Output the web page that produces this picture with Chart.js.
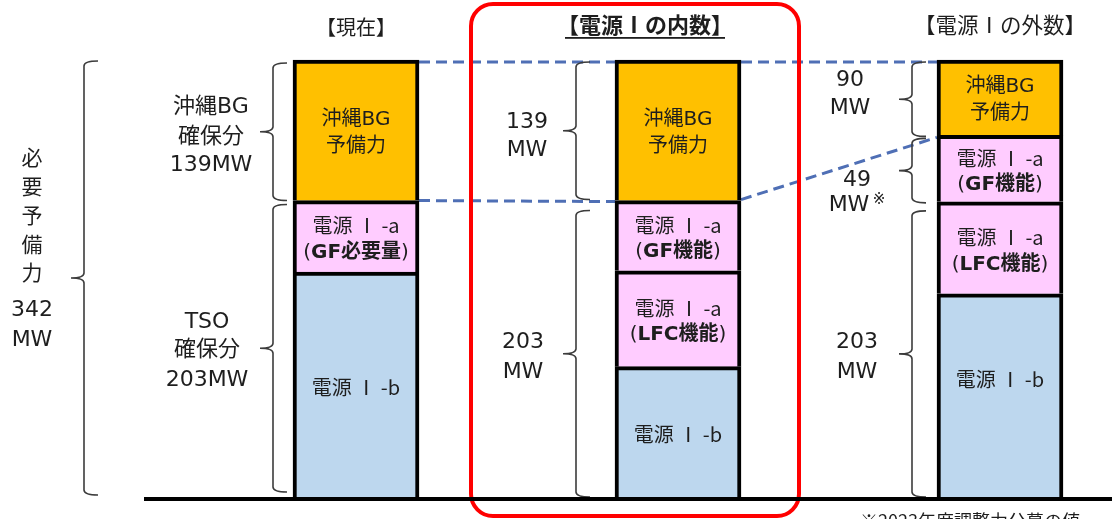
<!DOCTYPE html>
<html lang="ja">
<head>
<meta charset="utf-8">
<script src="https://cdn.jsdelivr.net/npm/chart.js@4"></script>
<style>
  html, body { margin: 0; padding: 0; background: #fff; }
  canvas { display: block; }
</style>
</head>
<body>
<canvas id="reserve" width="1112" height="519"></canvas>
<script>
// columns of the diagram
const columns = ['現在', '電源Ⅰの内数', '電源Ⅰの外数'];

// segment heights as drawn (schematic, not to scale; every column = 342)
const sourceB = [176, 102, 159];   // 電源Ⅰ-b
const lfcPart = [null, 75, 72];    // 電源Ⅰ-a（LFC機能）
const gfPart = [56, 55, 52];       // 電源Ⅰ-a（GF必要量 / GF機能）
const bgPart = [110, 110, 59];     // 沖縄BG予備力
const total = 342;

// texts inside the segments, per dataset then per column
const segText = [
  [[['電源 Ⅰ -b']], [['電源 Ⅰ -b']], [['電源 Ⅰ -b']]],
  [null, [['電源 Ⅰ -a'], ['(', 'LFC機能', ')']], [['電源 Ⅰ -a'], ['(', 'LFC機能', ')']]],
  [[['電源 Ⅰ -a'], ['(', 'GF必要量', ')']], [['電源 Ⅰ -a'], ['(', 'GF機能', ')']], [['電源 Ⅰ -a'], ['(', 'GF機能', ')']]],
  [[['沖縄BG'], ['予備力']], [['沖縄BG'], ['予備力']], [['沖縄BG'], ['予備力']]]
];

// braces: value range they span
const braces = [
  { x: 84, from: 0, to: 342, padT: 1, padB: 2 },
  { x: 273, from: 232, to: 342, padT: 3, padB: 0 },
  { x: 273, from: 0, to: 232, padT: 4, padB: 5 },
  { x: 576, from: 232, to: 342, padT: 2, padB: 1 },
  { x: 576, from: 0, to: 232, padT: 10, padB: 0 },
  { x: 912, from: 283, to: 342, padT: 2, padB: -1 },
  { x: 912, from: 231, to: 283, padT: 3, padB: -1 },
  { x: 912, from: 0, to: 231, padT: 9, padB: 0 }
];

const LATIN = '"DejaVu Sans", "Noto Sans CJK JP", sans-serif';
const CJK = '"Noto Sans CJK JP", sans-serif';
const INK = '#1e1e1e';

function txt(ctx, s, x, y, size, bold, fam) {
  ctx.font = (bold ? 'bold ' : '') + size + 'px ' + (fam || LATIN);
  ctx.fillStyle = INK;
  ctx.textAlign = 'center';
  ctx.textBaseline = 'middle';
  ctx.fillText(s, x, y);
}

// one line made of parts: plain, bold, plain
function mixed(ctx, parts, x, y, size) {
  const fonts = parts.map((p, i) => (parts.length > 1 && i === 1 ? 'bold ' : '') + size + 'px ' +
    (p.indexOf('Ⅰ') >= 0 ? CJK : LATIN));
  let w = 0;
  const ws = parts.map((p, i) => { ctx.font = fonts[i]; const m = ctx.measureText(p).width; w += m; return m; });
  let cx = x - w / 2;
  ctx.fillStyle = INK;
  ctx.textAlign = 'left';
  ctx.textBaseline = 'middle';
  parts.forEach((p, i) => { ctx.font = fonts[i]; ctx.fillText(p, cx, y); cx += ws[i]; });
}

function brace(ctx, x, top, bottom) {
  const mid = (top + bottom) / 2, r = 5, hook = 14, tip = 13;
  ctx.beginPath();
  ctx.moveTo(x + hook, top);
  ctx.quadraticCurveTo(x, top, x, top + r);
  ctx.lineTo(x, mid - r);
  ctx.quadraticCurveTo(x, mid, x - tip, mid);
  ctx.quadraticCurveTo(x, mid, x, mid + r);
  ctx.lineTo(x, bottom - r);
  ctx.quadraticCurveTo(x, bottom, x + hook, bottom);
  ctx.stroke();
}

const diagram = {
  id: 'diagram',
  beforeDatasetsDraw(chart) {
    const ctx = chart.ctx;
    const bg = chart.getDatasetMeta(3).data;
    const L = b => b.x - b.width / 2, R = b => b.x + b.width / 2;
    ctx.save();
    ctx.strokeStyle = '#4f6fb5';
    ctx.lineWidth = 3;
    ctx.setLineDash([11, 6]);
    const seg = (x1, y1, x2, y2) => { ctx.beginPath(); ctx.moveTo(x1, y1); ctx.lineTo(x2, y2); ctx.stroke(); };
    seg(R(bg[0]), bg[0].y + 2, L(bg[1]), bg[1].y + 2);
    seg(R(bg[1]), bg[1].y + 2, L(bg[2]), bg[2].y + 2);
    seg(R(bg[0]), bg[0].base, L(bg[1]), bg[1].base + 1);
    seg(R(bg[1]), bg[1].base - 1, L(bg[2]), bg[2].base + 2);
    ctx.restore();
  },
  afterDatasetsDraw(chart) {
    const ctx = chart.ctx;
    const y = chart.scales.y;
    ctx.save();

    // texts inside the segments
    segText.forEach((col, di) => {
      const meta = chart.getDatasetMeta(di);
      col.forEach((lines, j) => {
        if (!lines) return;
        const el = meta.data[j];
        let cy = (el.y + el.base) / 2 + 3;
        if (di === 0 && j === 2) cy -= 19;
        const lh = 27;
        lines.forEach((parts, k) => {
          mixed(ctx, parts, el.x, cy + (k - (lines.length - 1) / 2) * lh, 20);
        });
      });
    });

    // braces
    ctx.strokeStyle = '#3c3c3c';
    ctx.lineWidth = 1.6;
    braces.forEach(b => brace(ctx, b.x, y.getPixelForValue(b.to) + b.padT, y.getPixelForValue(b.from) - b.padB));

    // titles
    txt(ctx, '【現在】', 356, 27, 20, false, CJK);
    txt(ctx, '【電源Ⅰの内数】', 645, 25, 22, true, CJK);
    ctx.font = 'bold 22px ' + CJK;
    const tw = ctx.measureText('【電源Ⅰの内数】').width;
    ctx.fillStyle = INK;
    ctx.fillRect(645 - tw / 2 + 8, 37, tw - 16, 1.8);
    txt(ctx, '【電源Ⅰの外数】', 1000, 25, 21.5, false, CJK);

    // left side
    '必要予備力'.split('').forEach((c, i) => txt(ctx, c, 32, 160 + i * 28.7, 21));
    txt(ctx, '342', 32, 310, 22);
    txt(ctx, 'MW', 32, 340, 22);
    txt(ctx, '沖縄BG', 211, 107, 22);
    txt(ctx, '確保分', 211, 137, 22);
    txt(ctx, '139MW', 211, 165, 22);
    txt(ctx, 'TSO', 207, 322, 22);
    txt(ctx, '確保分', 207, 350, 22);
    txt(ctx, '203MW', 207, 380, 22);
    txt(ctx, '139', 527, 122, 22);
    txt(ctx, 'MW', 527, 150, 22);
    txt(ctx, '203', 523, 342, 22);
    txt(ctx, 'MW', 523, 372, 22);
    txt(ctx, '90', 850, 80, 22);
    txt(ctx, 'MW', 850, 108, 22);
    txt(ctx, '49', 857, 180, 22);
    txt(ctx, 'MW', 849, 205, 22);
    txt(ctx, '※', 879, 200, 15);
    txt(ctx, '203', 857, 342, 22);
    txt(ctx, 'MW', 857, 372, 22);

    // footnote, cut by the bottom edge
    ctx.font = '18px ' + CJK;
    ctx.fillStyle = INK;
    ctx.textAlign = 'left';
    ctx.textBaseline = 'top';
    ctx.fillText('※2023年度調整力公募の値', 860, 512);

    // red frame
    ctx.strokeStyle = '#ff0000';
    ctx.lineWidth = 4;
    ctx.beginPath();
    ctx.roundRect(471, 4, 328, 512, 22);
    ctx.stroke();

    // ground line
    ctx.fillStyle = '#000';
    ctx.fillRect(144, 497, 1112 - 144, 4);
    ctx.restore();
  }
};

const barStyle = { borderColor: '#000', borderWidth: 4, borderSkipped: 'start', clip: false };

new Chart(document.getElementById('reserve'), {
  type: 'bar',
  data: {
    labels: columns,
    datasets: [
      Object.assign({ label: '電源Ⅰ-b', data: sourceB, backgroundColor: '#bdd7ee' }, barStyle),
      Object.assign({ label: '電源Ⅰ-a（LFC機能）', data: lfcPart, backgroundColor: '#ffccff' }, barStyle),
      Object.assign({ label: '電源Ⅰ-a（GF）', data: gfPart, backgroundColor: '#ffccff' }, barStyle),
      Object.assign({ label: '沖縄BG予備力', data: bgPart, backgroundColor: '#ffc000' }, barStyle)
    ]
  },
  options: {
    responsive: false,
    animation: false,
    devicePixelRatio: 1,
    events: [],
    layout: { padding: { left: 356, right: 112, top: 60, bottom: 22 } },
    datasets: { bar: { barThickness: 126 } },
    scales: {
      x: { stacked: true, offset: false, display: false },
      y: { stacked: true, display: false, min: 0, max: total }
    },
    plugins: { legend: { display: false }, tooltip: { enabled: false } }
  },
  plugins: [diagram]
});
</script>
</body>
</html>
